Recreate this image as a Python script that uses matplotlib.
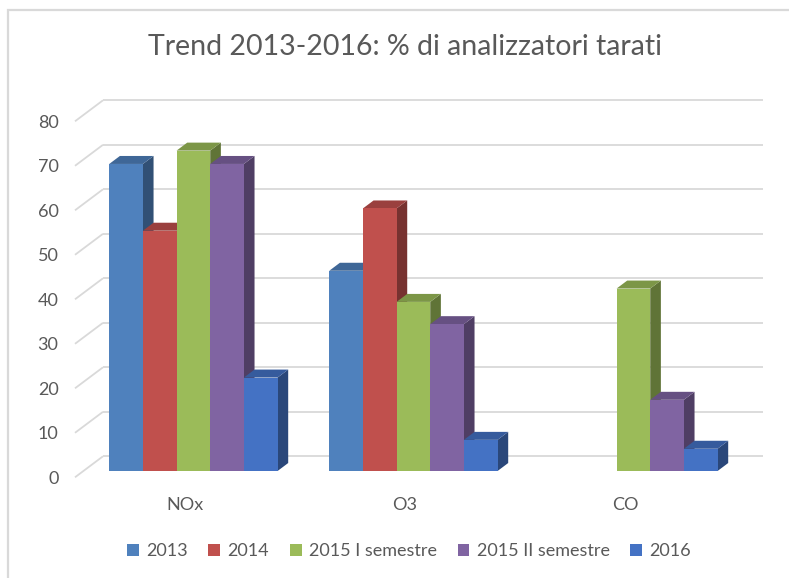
import matplotlib
matplotlib.use('Agg')
import matplotlib.pyplot as plt
from matplotlib.patches import Polygon, Rectangle, Patch
from matplotlib.colors import to_rgb

# ---------------- data ----------------
categories = ['NOx', 'O3', 'CO']
series_names = ['2013', '2014', '2015 I semestre', '2015 II semestre', '2016']
v2013 = [69, 45, 0]
v2014 = [54, 59, 0]
v2015_1 = [72, 38, 41]
v2015_2 = [69, 33, 16]
v2016 = [21, 7, 5]
series_values = [v2013, v2014, v2015_1, v2015_2, v2016]
y_ticks = [0, 10, 20, 30, 40, 50, 60, 70, 80]
title = 'Trend 2013-2016: % di analizzatori tarati'

colors = ['#4F81BD', '#C0504D', '#9BBB59', '#8064A2', '#4472C4']
text_color = '#595959'
grid_color = '#D9D9D9'
FONT = 'Lato'

# ---------------- figure ----------------
W, H, DPI = 789, 578, 100
fig = plt.figure(figsize=(W / DPI, H / DPI), dpi=DPI)
fig.patch.set_facecolor('white')

# outer chart border (only top/left visible in the reference)
fig.patches.append(Rectangle((8 / W, -0.1), 1.2, 1.1 - 10 / H, transform=fig.transFigure,
                             fill=False, edgecolor='#D9D9D9', linewidth=1.6))

ax = fig.add_axes([83.4 / W, 1 - 471 / H, 660 / W, 356 / H])
ax.set_xlim(-0.5, len(categories) - 0.5)
ax.set_ylim(y_ticks[0], y_ticks[-1])
ax.axis('off')

# pixel -> data scales
sx = ax.bbox.width / (len(categories))
sy = ax.bbox.height / (y_ticks[-1] - y_ticks[0])

# depth geometry (pixels): full depth vector, bar front plane, bar depth
DX, DY = 28.0, 21.0
FRONT = 0.30     # bar front plane measured from front edge
BDEPTH = 0.38    # bar depth fraction


def off(frac):
    return frac * DX / sx, frac * DY / sy


bx, by = off(1 - FRONT)     # back wall offset
fx, fy = off(-FRONT)        # front edge offset
dx, dy = off(BDEPTH)        # bar depth

xl, xr = ax.get_xlim()
for t in y_ticks:
    ax.plot([xl + fx, xl + bx], [t + fy, t + by], color=grid_color, lw=1.3,
            clip_on=False, zorder=0, solid_capstyle='butt')
    ax.plot([xl + bx, xr + bx], [t + by, t + by], color=grid_color, lw=1.3,
            clip_on=False, zorder=0, solid_capstyle='butt')
    ax.text(xl + fx - 16.5 / sx, t + fy - 1.5 / sy, str(t), ha='right', va='center',
            fontsize=13, color=text_color, family=FONT)

n = len(series_names)
w = 0.765 / n


def shade(c, f):
    r, g, b = to_rgb(c)
    return (r * f, g * f, b * f)


z = 1
for i, cat in enumerate(categories):
    for j in range(n):
        h = series_values[j][i]
        if h <= 0:
            continue
        x = i + (j - n / 2) * w
        c = colors[j]
        side = Polygon([(x + w, 0), (x + w, h), (x + w + dx, h + dy), (x + w + dx, dy)],
                       closed=True, facecolor=shade(c, 0.62), edgecolor='none',
                       clip_on=False, zorder=z)
        top = Polygon([(x, h), (x + w, h), (x + w + dx, h + dy), (x + dx, h + dy)],
                      closed=True, facecolor=shade(c, 0.8), edgecolor='none',
                      clip_on=False, zorder=z)
        ax.add_patch(side)
        ax.add_patch(top)
        ax.bar([x], [h], width=w, align='edge', color=c, edgecolor='none',
               zorder=z + 0.5, clip_on=False)
        z += 1

for i, cat in enumerate(categories):
    ax.text(i + fx, fy - 28 / sy, cat, ha='center', va='center', fontsize=13,
            color=text_color, family=FONT)

fig.text(405 / W, 1 - 47 / H, title, ha='center', va='center', fontsize=20.5,
         color=text_color, family=FONT)

handles = [Patch(facecolor=c, edgecolor='none') for c in colors]
fig.legend(handles, series_names, loc='center', bbox_to_anchor=(409 / W, 1 - 551 / H),
           ncol=n, frameon=False, handlelength=0.65, handleheight=0.65,
           handletextpad=0.4, columnspacing=1.15,
           prop={'family': FONT, 'size': 13}, labelcolor=text_color)

fig.savefig('out.png', dpi=DPI, facecolor='white')
